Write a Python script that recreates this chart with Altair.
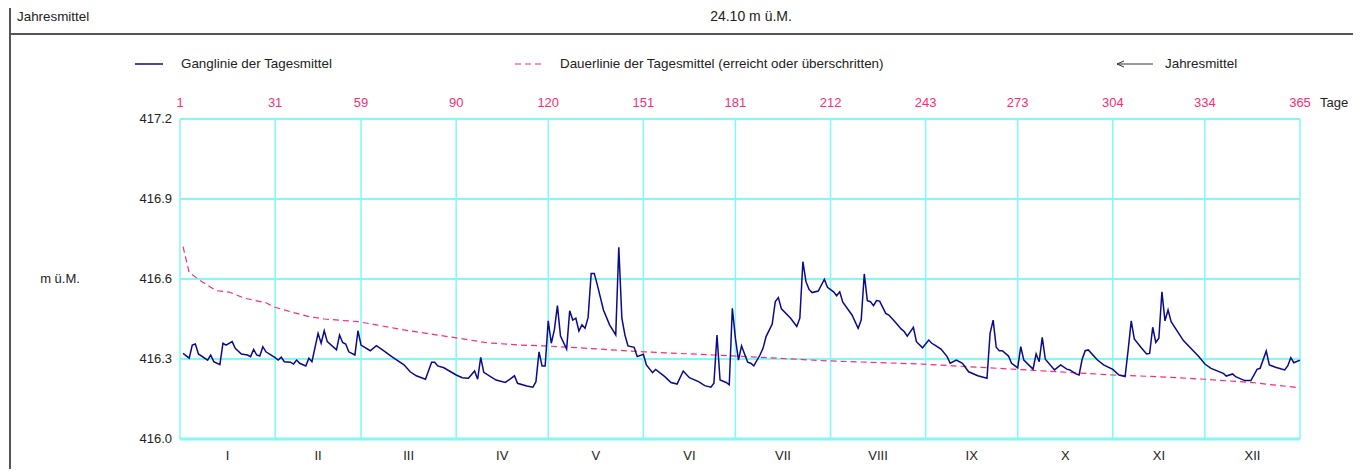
import altair as alt
import pandas as pd

# ---- data ----
gang_days = [1, 3, 4, 5, 6, 9, 10, 11, 13, 14, 15, 17, 18, 20, 22, 23, 24, 25, 26, 27, 28,
             31, 32, 33, 34, 36, 37, 38, 39, 41, 42, 43, 45, 46, 47, 48, 51, 52, 53, 54, 55, 57, 58, 59,
             62, 64, 66, 69, 73, 75, 77, 80, 82, 83, 84, 86, 90, 92, 94, 96, 97, 98, 99,
             103, 106, 108, 109, 110, 113, 115, 116, 117, 118, 119, 120, 121, 122, 123, 124, 126,
             127, 128, 129, 130, 131, 132, 133, 134, 135, 136, 138, 140, 142, 143, 144, 145, 146,
             148, 149, 151, 152, 154, 155, 158, 160, 162, 164, 166, 169, 171, 173, 174, 175, 176,
             178, 179, 180, 181, 182, 183, 185, 186, 187, 189, 190, 191, 193, 194, 195, 196, 199,
             201, 202, 203, 204, 205, 206, 208, 210, 211, 213, 214, 215, 216, 219, 221, 222, 223,
             224, 225, 226, 227, 228, 230, 231, 233, 235, 236, 237, 239, 240, 242, 244, 245, 246,
             248, 250, 251, 253, 255, 257, 260, 263, 264, 265, 266, 267, 268, 270, 271, 273, 274,
             275, 278, 279, 280, 281, 282, 285, 287, 289, 290, 292, 293, 294, 295, 296, 299, 301,
             304, 306, 308, 309, 310, 311, 313, 315, 316, 317, 318, 319, 320, 321, 322, 323, 327,
             332, 334, 336, 340, 341, 343, 344, 347, 349, 351, 352, 354, 355, 357, 360, 361, 362,
             363, 365]
gang_vals = [416.321, 416.303, 416.352, 416.356, 416.319, 416.296, 416.315, 416.290, 416.279, 416.359,
             416.352, 416.365, 416.340, 416.319, 416.315, 416.309, 416.336, 416.315, 416.311, 416.346,
             416.327, 416.305, 416.296, 416.307, 416.290, 416.288, 416.281, 416.296, 416.284, 416.274,
             416.303, 416.290, 416.396, 416.359, 416.406, 416.365, 416.334, 416.390, 416.362, 416.356,
             416.327, 416.315, 416.406, 416.352, 416.331, 416.350, 416.334, 416.309, 416.278, 416.252,
             416.237, 416.224, 416.288, 416.288, 416.274, 416.267, 416.240, 416.230, 416.228, 416.255,
             416.224, 416.306, 416.250, 416.221, 416.212, 416.228, 416.237, 416.209, 416.199, 416.194,
             416.215, 416.327, 416.274, 416.274, 416.443, 416.359, 416.409, 416.500, 416.386, 416.337,
             416.481, 416.446, 416.453, 416.405, 416.428, 416.415, 416.456, 416.621, 416.621, 416.578,
             416.484, 416.428, 416.390, 416.719, 416.453, 416.390, 416.349, 416.344, 416.309, 416.318,
             416.278, 416.249, 416.261, 416.234, 416.212, 416.206, 416.255, 416.230, 416.215, 416.200,
             416.194, 416.209, 416.390, 416.221, 416.212, 416.203, 416.490, 416.378, 416.296, 416.349,
             416.288, 416.284, 416.274, 416.315, 416.340, 416.384, 416.431, 416.515, 416.530, 416.488,
             416.453, 416.422, 416.453, 416.665, 416.590, 416.561, 416.549, 416.555, 416.599, 416.569,
             416.552, 416.537, 416.552, 416.513, 416.465, 416.415, 416.446, 416.619, 416.519, 416.515,
             416.500, 416.519, 416.517, 416.471, 416.465, 416.440, 416.413, 416.403, 416.386, 416.419,
             416.365, 416.342, 416.371, 416.359, 416.352, 416.337, 416.309, 416.284, 416.296, 416.284,
             416.252, 416.237, 416.228, 416.396, 416.446, 416.344, 416.331, 416.331, 416.311, 416.284,
             416.267, 416.346, 416.296, 416.262, 416.319, 416.290, 416.381, 416.299, 416.259, 416.278,
             416.262, 416.259, 416.244, 416.240, 416.299, 416.331, 416.334, 416.296, 416.278, 416.261,
             416.240, 416.234, 416.334, 416.443, 416.375, 416.346, 416.319, 416.321, 416.419, 416.362,
             416.378, 416.552, 416.443, 416.484, 416.440, 416.369, 416.309, 416.281, 416.265, 416.246,
             416.236, 416.244, 416.234, 416.219, 416.219, 416.261, 416.265, 416.330, 416.278, 416.269,
             416.259, 416.274, 416.305, 416.286, 416.296]

dauer_days = [1, 3, 6, 10, 12, 16, 21, 28, 31, 37, 42, 47, 58, 64, 73, 89, 100, 111, 119, 127,
              151, 174, 191, 211, 242, 254, 273, 304, 318, 334, 349, 365]
dauer_vals = [416.721, 416.624, 416.599, 416.569, 416.556, 416.551, 416.528, 416.511, 416.494,
              416.474, 416.459, 416.450, 416.440, 416.428, 416.409, 416.381, 416.361, 416.352,
              416.349, 416.344, 416.327, 416.315, 416.305, 416.293, 416.281, 416.273, 416.261,
              416.240, 416.234, 416.224, 416.212, 416.192]

tick_days = [0, 31, 59, 90, 120, 151, 181, 212, 243, 273, 304, 334, 365]
tick_labels = ["1", "31", "59", "90", "120", "151", "181", "212", "243", "273", "304", "334", "365"]
y_ticks = [416.0, 416.3, 416.6, 416.9, 417.2]
y_tick_labels = ["416.0", "416.3", "416.6", "416.9", "417.2"]
month_names = ["I", "II", "III", "IV", "V", "VI", "VII", "VIII", "IX", "X", "XI", "XII"]

header_left = "Jahresmittel"
header_mid = "24.10 m ü.M."
legend_texts = ["Ganglinie der Tagesmittel",
                "Dauerlinie der Tagesmittel (erreicht oder überschritten)",
                "Jahresmittel"]
y_title = "m ü.M."
x_title = "Tage"

# ---- tables ----
df_g = pd.DataFrame({"day": gang_days, "val": gang_vals})
df_d = pd.DataFrame({"day": dauer_days, "val": dauer_vals})
df_xt = pd.DataFrame({"day": tick_days, "lab": tick_labels})
df_yt = pd.DataFrame({"val": y_ticks, "lab": y_tick_labels})
df_m = pd.DataFrame({"name": month_names,
                     "mid": [(a + b) / 2 for a, b in zip(tick_days[:-1], tick_days[1:])]})
dummy = pd.DataFrame({"k": [0]})

FONT = "Liberation Sans"
BLUE = "#0a0a8c"
PINK = "#ff2a74"
CYAN = "#7ff9f9"
FRAME = "#555555"
TXT = "#222222"

xs = alt.Scale(domain=[0, 365], nice=False, zero=False)
ys = alt.Scale(domain=[416.0, 417.2], nice=False, zero=False)

W, H = 1120, 320

# grid lines (through the scales)
vgrid = alt.Chart(df_xt).mark_rule(color=CYAN, strokeWidth=1.5).encode(
    x=alt.X("day:Q", scale=xs, axis=None), y=alt.value(0), y2=alt.value(H))
hgrid = alt.Chart(df_yt).mark_rule(color=CYAN, strokeWidth=2).encode(
    y=alt.Y("val:Q", scale=ys, axis=None), x=alt.value(0), x2=alt.value(W))

xlabels = alt.Chart(df_xt).mark_text(color=PINK, font=FONT, fontSize=13, baseline="middle").encode(
    x=alt.X("day:Q", scale=xs, axis=None), y=alt.value(-16), text="lab:N")
ylabels = alt.Chart(df_yt).mark_text(color=TXT, font=FONT, fontSize=13, baseline="middle", align="right").encode(
    y=alt.Y("val:Q", scale=ys, axis=None), x=alt.value(-8), text="lab:N")

gang = alt.Chart(df_g).mark_line(color=BLUE, strokeWidth=1.5).encode(
    x=alt.X("day:Q", scale=xs, axis=None),
    y=alt.Y("val:Q", scale=ys, axis=None),
)

dauer = alt.Chart(df_d).mark_line(color=PINK, strokeWidth=1.2, strokeDash=[6, 4]).encode(
    x=alt.X("day:Q", scale=xs, axis=None),
    y=alt.Y("val:Q", scale=ys, axis=None),
)

months = alt.Chart(df_m).mark_text(fontSize=13, font=FONT, color=TXT, baseline="middle").encode(
    x=alt.X("mid:Q", scale=xs, axis=None),
    y=alt.value(H + 17),
    text="name:N",
)

base = alt.Chart(dummy)

bottom_border = base.mark_rule(color=CYAN, strokeWidth=3).encode(
    x=alt.value(0), x2=alt.value(W), y=alt.value(H))


def txt(s, x, y, align="left", color=TXT, size=12):
    return base.mark_text(align=align, baseline="middle", font=FONT, fontSize=size, color=color).encode(
        x=alt.value(x), y=alt.value(y), text=alt.value(s))


def rule(x, x2, y, y2, color, width=1.0, dash=None):
    kw = dict(color=color, strokeWidth=width)
    if dash:
        kw["strokeDash"] = dash
    return base.mark_rule(**kw).encode(x=alt.value(x), x2=alt.value(x2), y=alt.value(y), y2=alt.value(y2))


LEG = 13.4
deco = [
    rule(-170, -170, -111, 354, FRAME, 2),
    rule(-170, 1173, -85, -85, FRAME, 2),
    txt(header_left, -163, -102, size=LEG),
    txt(header_mid, 571, -102, align="center", size=14),
    rule(-45, -17, -55, -55, BLUE, 1.5),
    txt(legend_texts[0], 1, -55, size=LEG),
    rule(335, 365, -55, -55, PINK, 1.2, [6, 4]),
    txt(legend_texts[1], 380, -55, size=LEG),
    rule(937, 973, -55, -55, "#333333", 1),
    rule(937, 944, -55, -58, "#333333", 1),
    rule(937, 944, -55, -52, "#333333", 1),
    txt(legend_texts[2], 985, -55, size=LEG),
    txt(x_title, 1140, -16, size=13),
    txt(y_title, -120, 160, align="center", size=13),
]

chart = alt.layer(vgrid, hgrid, bottom_border, dauer, gang, xlabels, ylabels, months, *deco).properties(
    width=W, height=H,
    background="white",
    autosize=alt.AutoSizeParams(type="none"),
    padding={"left": 172, "top": 111, "right": 53, "bottom": 30},
).configure_view(stroke=None)

chart.save("out.html", embed_options={"renderer": "svg", "actions": False})
